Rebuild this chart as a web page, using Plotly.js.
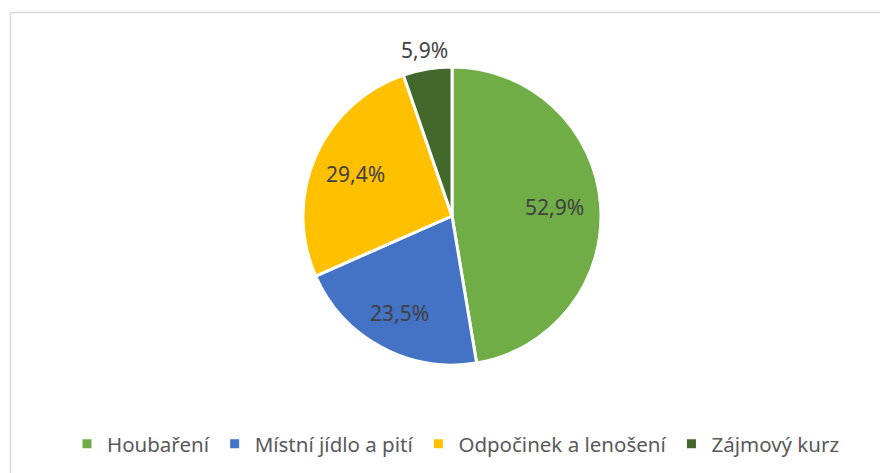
<!DOCTYPE html>
<html>
<head>
<meta charset="utf-8">
<script src="https://cdn.plot.ly/plotly-3.0.1.min.js"></script>
<style>html,body{margin:0;padding:0;background:#fff;}#chart{width:880px;height:473px;}</style>
</head>
<body>
<div id="chart"></div>
<script>
const categories = ["Houbaření", "Místní jídlo a pití", "Odpočinek a lenošení", "Zájmový kurz"];
const values = [52.9, 23.5, 29.4, 5.9];
const valueLabels = ["52,9%", "23,5%", "29,4%", "5,9%"];
const colors = ["#70AD47", "#4472C4", "#FFC000", "#43682B"];
const labelRadius = [0.69, 0.74, 0.71, 1.13];

const W = 880, H = 473;
const cx = 452, cy = 216, r = 149;

const trace = {
  type: "pie",
  labels: categories,
  values: values,
  textinfo: "none",
  sort: false,
  direction: "clockwise",
  rotation: 0,
  marker: {colors: colors, line: {color: "#FFFFFF", width: 3}},
  domain: {x: [(cx - r) / W, (cx + r) / W], y: [1 - (cy + r) / H, 1 - (cy - r) / H]},
  hoverinfo: "label+percent"
};

// data labels placed at the middle angle of each slice (derived from the values)
const total = values.reduce((a, b) => a + b, 0);
let cum = 0;
const annotations = values.map((v, i) => {
  const mid = (cum + v / 2) / total * 2 * Math.PI;
  cum += v;
  const d = labelRadius[i] * r;
  return {
    xref: "paper", yref: "paper",
    x: (cx + d * Math.sin(mid)) / W,
    y: 1 - (cy - d * Math.cos(mid)) / H,
    xanchor: "center", yanchor: "middle",
    text: valueLabels[i], showarrow: false,
    font: {family: "Noto Sans", size: 21, color: "#404040"}
  };
});

const layout = {
  width: W, height: H,
  margin: {l: 0, r: 0, t: 0, b: 0},
  paper_bgcolor: "#FFFFFF",
  showlegend: true,
  legend: {
    orientation: "h",
    x: 67 / W, xanchor: "left",
    y: 1 - 444 / H, yanchor: "middle",
    font: {family: "Noto Sans", size: 20.5, color: "#595959"},
    traceorder: "normal",
    itemclick: false
  },
  annotations: annotations,
  shapes: [
    {type: "line", xref: "paper", yref: "paper", x0: 10.5 / W, x1: 1, y0: 1 - 12.5 / H, y1: 1 - 12.5 / H, line: {color: "#D9D9D9", width: 1.5}},
    {type: "line", xref: "paper", yref: "paper", x0: 10.5 / W, x1: 10.5 / W, y0: 0, y1: 1 - 12.5 / H, line: {color: "#D9D9D9", width: 1.5}}
  ]
};

Plotly.newPlot("chart", [trace], layout, {displayModeBar: false, staticPlot: true});
</script>
</body>
</html>
